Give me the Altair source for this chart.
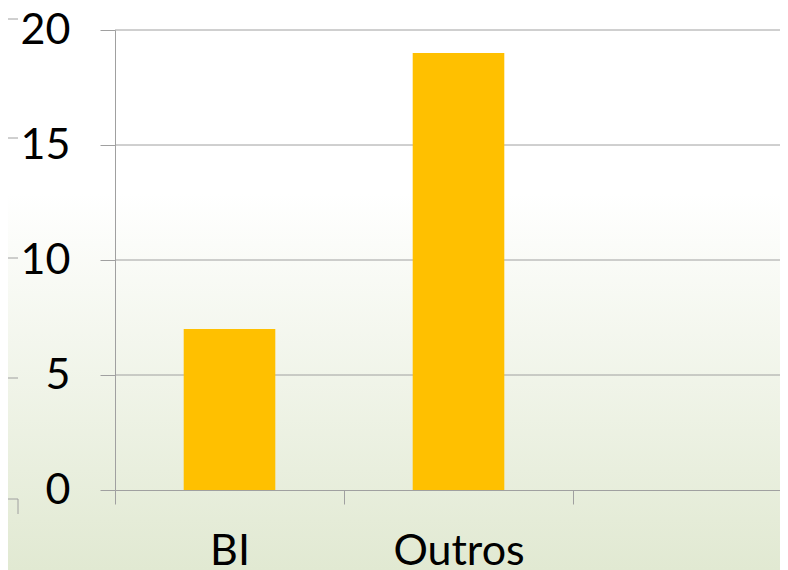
import altair as alt
import pandas as pd

# ---- data ----
categories = ["BI", "Outros", " "]
values = [7, 19]
y_ticks = [0, 5, 10, 15, 20]

bars_df = pd.DataFrame({"cat": categories[:2], "val": values})
grid_df = pd.DataFrame({"t": y_ticks[1:]})

GRAY = "#a0a0a0"
FONT = "Lato"
BAR = "#FFC000"

VIEW_W = 665          # visible plot width (page is 772 px wide inside margins)
RANGE_W = 687         # full category range (third band runs past the page edge)
PLOT_H = 460
STEP = RANGE_W / len(categories)

xscale = alt.Scale(domain=categories, range=[0, RANGE_W], paddingInner=0.6, paddingOuter=0.3)
yscale = alt.Scale(domain=[0, 20], nice=False)

y_axis = alt.Axis(values=y_ticks, grid=False, tickSize=15, tickColor=GRAY, tickWidth=1,
                  domainColor=GRAY, domainWidth=1, labelFont=FONT, labelFontSize=43,
                  labelColor="black", labelPadding=30, title=None, zindex=1)
x_axis = alt.Axis(grid=False, tickSize=14, tickColor=GRAY, tickWidth=1,
                  tickOffset=-STEP / 2, labelOffset=STEP / 2,
                  domainColor=GRAY, domainWidth=1, labelFont=FONT, labelFontSize=43,
                  labelColor="black", labelPadding=26, labelAngle=0, title=None, zindex=1)

bg = alt.Chart(pd.DataFrame({"a": [0]})).mark_rect(
    color=alt.LinearGradient(
        gradient="linear", x1=0, x2=0, y1=0, y2=1,
        stops=[alt.GradientStop(offset=0, color="#ffffff"),
               alt.GradientStop(offset=0.33, color="#ffffff"),
               alt.GradientStop(offset=1, color="#e1e9d2")])
).encode(x=alt.value(-107), x2=alt.value(VIEW_W), y=alt.value(-22), y2=alt.value(540))

grid = alt.Chart(grid_df).mark_rule(color=GRAY, strokeWidth=1).encode(
    y=alt.Y("t:Q", scale=yscale, axis=y_axis),
    x=alt.value(0), x2=alt.value(RANGE_W))

# faint tick marks of a neighbouring chart at the left edge (decoration)
stray_y = [-11, 108, 228, 348, 469]
stray = [
    alt.Chart(pd.DataFrame({"a": [0]})).mark_rule(color=GRAY, strokeWidth=1).encode(
        x=alt.value(-115), x2=alt.value(-97), y=alt.value(sy))
    for sy in stray_y
]
stray.append(
    alt.Chart(pd.DataFrame({"a": [0]})).mark_rule(color=GRAY, strokeWidth=1).encode(
        x=alt.value(-97), y=alt.value(469), y2=alt.value(484))
)

bars = alt.Chart(bars_df).mark_bar(color=BAR).encode(
    x=alt.X("cat:N", scale=xscale, sort=categories, axis=x_axis),
    y=alt.Y("val:Q", scale=yscale, axis=y_axis),
)

chart = alt.layer(bg, grid, *stray, bars).properties(
    width=VIEW_W, height=PLOT_H,
    padding={"left": 107, "top": 22, "right": 0, "bottom": 80},
    autosize=alt.AutoSizeParams(type="none"),
).configure_view(stroke=None)

chart.save("out.html", embed_options={"renderer": "svg", "actions": False})
